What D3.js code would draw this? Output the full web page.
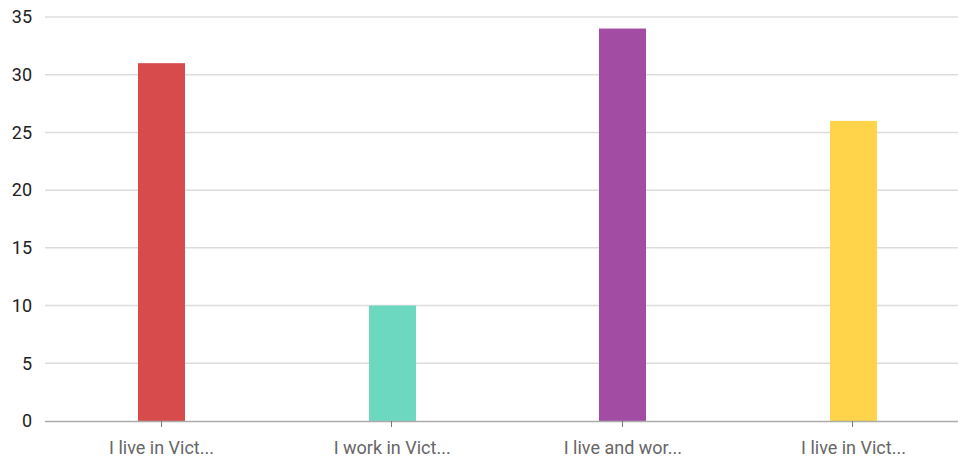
<!DOCTYPE html>
<html><head><meta charset="utf-8">
<script src="https://cdn.jsdelivr.net/npm/d3@7"></script>
<style>body{margin:0;background:#fff}svg{display:block}</style>
</head><body>
<svg id="c" width="958" height="462"></svg>
<script>
const categories = ["I live in Vict...", "I work in Vict...", "I live and wor...", "I live in Vict..."];
const values = [31, 10, 34, 26];
const colors = ["#D74B4D", "#6CD8C0", "#A34CA3", "#FFD44B"];
const yTicks = [0, 5, 10, 15, 20, 25, 30, 35];

(function () {
const svg = d3.select("#c");
const pl = 45, pr = 958, pt = 17, pb = 421;
const x = d3.scaleBand().domain(d3.range(categories.length)).range([46.2, 968.8]);
const y = d3.scaleLinear().domain([0, 35]).range([pb, pt]);

// gridlines
svg.append("g").selectAll("line").data(yTicks.filter(d => d > 0)).join("line")
  .attr("x1", pl).attr("x2", pr)
  .attr("y1", d => y(d)).attr("y2", d => y(d))
  .attr("stroke", "#dcdcdc").attr("stroke-width", 1.5);

// y labels
svg.append("g").selectAll("text").data(yTicks).join("text")
  .attr("x", 32).attr("y", d => y(d)).attr("dy", "0.35em")
  .attr("text-anchor", "end")
  .attr("font-family", "Roboto, Arial, sans-serif").attr("font-size", 18)
  .attr("fill", "#222").text(d => d);

// bars
const bw = 47;
svg.append("g").selectAll("rect").data(values).join("rect")
  .attr("x", (d, i) => Math.round(x(i) + x.bandwidth() / 2 - bw / 2))
  .attr("width", bw)
  .attr("y", d => y(d)).attr("height", d => y(0) - y(d))
  .attr("fill", (d, i) => colors[i]);

// axis line
svg.append("line").attr("x1", pl).attr("x2", pr)
  .attr("y1", pb + 0.5).attr("y2", pb + 0.5)
  .attr("stroke", "#aaa").attr("stroke-width", 1.5);

// ticks
svg.append("g").selectAll("line").data(categories).join("line")
  .attr("x1", (d, i) => Math.round(x(i) + x.bandwidth() / 2) - 0.5).attr("x2", (d, i) => Math.round(x(i) + x.bandwidth() / 2) - 0.5)
  .attr("y1", pb).attr("y2", pb + 6)
  .attr("stroke", "#777").attr("stroke-width", 1);

// x labels
svg.append("g").selectAll("text").data(categories).join("text")
  .attr("x", (d, i) => x(i) + x.bandwidth() / 2).attr("y", 454)
  .attr("text-anchor", "middle")
  .attr("font-family", "Roboto, Arial, sans-serif").attr("font-size", 18)
  .attr("fill", "#666").text(d => d);
})();
</script>
</body></html>
